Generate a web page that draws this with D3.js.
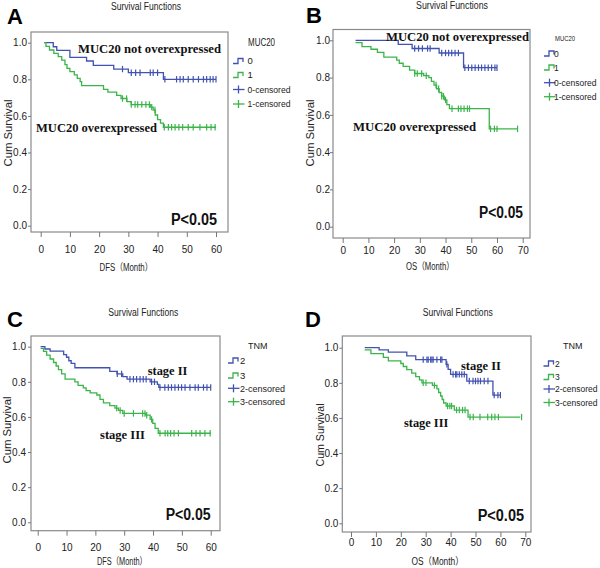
<!DOCTYPE html>
<html><head><meta charset="utf-8">
<script src="https://cdn.jsdelivr.net/npm/d3@7"></script>
<style>body{margin:0;background:#fff}svg{display:block}</style>
</head><body><svg id="c" width="600" height="568"></svg>
<script>
// ---------- DATA ----------
const yTickValues = [0, 0.2, 0.4, 0.6, 0.8, 1.0];
const dfsTicks = [0, 10, 20, 30, 40, 50, 60];
const osTicks = [0, 10, 20, 30, 40, 50, 60, 70];

// Panel A: DFS by MUC20 (0 = not overexpressed, 1 = overexpressed)
const aNotT = [1.2, 4.3, 5.5, 10, 15.7, 18, 25, 30, 42, 60];
const aNotS = [1.0, 0.978, 0.958, 0.92, 0.90, 0.876, 0.856, 0.836, 0.80, 0.80];
const aNotC = [28, 31, 32.5, 34, 37.5, 38.5, 40, 42.5, 46.5, 47.7, 48.8, 50.5, 52.2, 54, 55.7, 56.8, 58, 59, 60];
const aOverT = [1.2, 1.8, 3, 4.5, 6, 7.2, 8.3, 9, 10, 11.5, 12.5, 13.5, 14, 21.5, 23, 26, 27.5, 29.5, 31, 37.5, 38.5, 39.2, 40, 41, 42, 60];
const aOverS = [1.0, 0.98, 0.96, 0.942, 0.924, 0.905, 0.88, 0.86, 0.842, 0.824, 0.805, 0.787, 0.765, 0.745, 0.73, 0.712, 0.695, 0.678, 0.662, 0.648, 0.632, 0.605, 0.58, 0.56, 0.538, 0.538];
const aOverC = [28, 29.4, 31, 32.3, 33.2, 34.6, 36, 37.2, 38, 39.1, 42.3, 43.7, 44.8, 46, 47.3, 48.6, 50.5, 52.2, 54.5, 56.8, 58.3, 59.7];

// Panel B: OS by MUC20
const bNotT = [5, 21.6, 27, 37.5, 47, 60];
const bNotS = [1.0, 0.978, 0.956, 0.932, 0.853, 0.853];
const bNotC = [28, 29.5, 31, 33, 34, 38.5, 40, 41.2, 42.4, 43.7, 45, 47.5, 48.9, 50.2, 51.5, 52.8, 54, 55.3, 56.6, 57.9, 59.2, 60];
const bOverT = [5, 7.5, 11, 13.5, 16, 21, 22, 23.5, 26, 28, 31.5, 33.5, 34.5, 35.5, 36.5, 37.5, 38.5, 39.5, 40.5, 41.5, 57, 68];
const bOverS = [0.988, 0.966, 0.952, 0.935, 0.91, 0.894, 0.877, 0.86, 0.84, 0.822, 0.81, 0.80, 0.78, 0.76, 0.74, 0.72, 0.70, 0.68, 0.655, 0.633, 0.525, 0.525];
const bOverC = [28, 29, 30.7, 32.5, 36.3, 37.3, 38.5, 39.2, 40, 42.5, 45, 46, 47.2, 48.5, 49.3, 57.5, 59, 60, 68];

// Panel C: DFS by TNM stage
const cIIT = [1, 2.5, 4.3, 9, 10, 10.8, 11.6, 12.9, 25, 27.5, 29.5, 31, 39, 41.5, 42, 60];
const cIIS = [1.0, 0.987, 0.975, 0.955, 0.94, 0.92, 0.905, 0.88, 0.86, 0.845, 0.83, 0.815, 0.80, 0.785, 0.768, 0.768];
const cIIC = [27.6, 29.1, 32, 33.2, 34.3, 35.5, 36.6, 37.6, 39.5, 40.5, 42.4, 44.1, 45.3, 46.4, 47.6, 48.8, 49.9, 51.1, 52.8, 54.6, 55.7, 57.5, 58.7, 60];
const cIIIT = [1, 2, 3.1, 4.3, 5.5, 6.4, 7.2, 8.3, 9.5, 12.9, 14, 15.8, 16.8, 18.2, 20.5, 21.6, 22.8, 25, 26.8, 28, 29.5, 37.5, 39, 39.9, 40.7, 41.8, 60];
const cIIIS = [0.99, 0.973, 0.952, 0.93, 0.91, 0.89, 0.87, 0.845, 0.815, 0.80, 0.78, 0.765, 0.75, 0.737, 0.725, 0.70, 0.68, 0.665, 0.65, 0.637, 0.62, 0.61, 0.586, 0.563, 0.535, 0.507, 0.507];
const cIIIC = [27.4, 28.6, 30, 33.2, 36.4, 37.2, 37.8, 39.5, 42.4, 44.2, 45.1, 46.1, 47.3, 48.8, 53.4, 54.9, 56.3, 58, 59.8];

// Panel D: OS by TNM stage
const dIIT = [5.5, 11.3, 15, 22.4, 26, 38.2, 39, 40, 46.5, 57, 60];
const dIIS = [1.0, 0.988, 0.975, 0.953, 0.932, 0.905, 0.876, 0.848, 0.81, 0.73, 0.73];
const dIIC = [29, 30.5, 31, 32, 32.5, 33, 34.5, 36, 36.5, 38.5, 41, 42, 42.5, 43.5, 44.5, 45.5, 47.5, 49, 50, 51, 52, 53.5, 55, 57.5, 59, 60];
const dIIIT = [5.5, 8, 13, 15, 20, 21, 22.4, 24.4, 26, 27.5, 28.5, 32.7, 34.5, 35.2, 36, 36.6, 37.2, 38.2, 41.5, 47, 68];
const dIIIS = [0.988, 0.966, 0.945, 0.925, 0.91, 0.893, 0.875, 0.855, 0.835, 0.817, 0.80, 0.785, 0.765, 0.745, 0.725, 0.705, 0.685, 0.668, 0.645, 0.605, 0.605];
const dIIIC = [29, 30.1, 33.5, 38.8, 39.7, 40.4, 42.4, 43.5, 44.8, 45.8, 47.8, 49.1, 51.8, 54.9, 56.5, 57.8, 59.2, 68.5];

const mucLegend = ["0", "1", "0-censored", "1-censored"];
const tnmLegend = ["2", "3", "2-censored", "3-censored"];

// ---------- STYLE ----------
const BLUE = "#4152b0", GREEN = "#3bb44a";
const SANS = "'Liberation Sans', Arial, sans-serif";
const SERIF = "'Liberation Serif', 'Times New Roman', serif";
const CJK = "'Liberation Sans', 'Noto Sans CJK SC', sans-serif";

const svg = d3.select("#c");
svg.append("rect").attr("width", 600).attr("height", 568).attr("fill", "#fff");

const panels = [
  { letter: "A", letterXY: [7, 24], title: [146, 9.5, 70],
    frame: [31, 32, 228, 232], xr: [40.7, 216], xMax: 60, yr: [225.7, 42.7], xTicks: dfsTicks,
    xPad: 9, yPad: 1, yLab: [8, 133, 67], xLab: [126, 271, 53, "DFS（Month）"],
    leg: { title: "MUC20", tXY: [248, 45.7], tLen: 27, tSize: 10, symX: 233, textX: 247.5, ys: [61, 75, 89.5, 104], names: mucLegend, cenLen: 43, fs: 9.5 },
    notes: [["MUC20 not overexpressed", 78, 53, 143], ["MUC20 overexpressed", 36, 132, 121]],
    p: [171, 225, 46],
    series: [[aNotT, aNotS, aNotC, BLUE], [aOverT, aOverS, aOverC, GREEN]] },
  { letter: "B", letterXY: [306, 23], title: [452, 9, 72],
    frame: [333, 29.5, 530, 238], xr: [342.7, 522.7], xMax: 70, yr: [226.7, 40.3], xTicks: osTicks,
    xPad: 4, yPad: 0, yLab: [310, 133, 67], xLab: [430, 270, 48, "OS（Month）"],
    leg: { title: "MUC20", tXY: [555, 40.5], tLen: 20, tSize: 8, symX: 544, textX: 554, ys: [53.5, 67.5, 82.7, 96.7], names: mucLegend, cenLen: 42.5, fs: 8.5 },
    notes: [["MUC20 not overexpressed", 386, 41, 143], ["MUC20 overexpressed", 353, 130.5, 123]],
    p: [479, 218, 44],
    series: [[bNotT, bNotS, bNotC, BLUE], [bOverT, bOverS, bOverC, GREEN]] },
  { letter: "C", letterXY: [7, 327], title: [143.3, 315.5, 70],
    frame: [31, 336, 220, 530.7], xr: [37.7, 210.7], xMax: 60, yr: [522.3, 346.7], xTicks: dfsTicks,
    xPad: 8, yPad: 2, yLab: [7, 430, 67], xLab: [122, 565, 50, "DFS（Month）"],
    leg: { title: "TNM", tXY: [248, 349], tLen: null, tSize: 9, symX: 228, textX: 240, ys: [360.5, 375.5, 388.3, 401.7], names: tnmLegend, cenLen: 45, fs: 9.5 },
    notes: [["stage II", 147.7, 375, 39.6], ["stage III", 100, 439.3, 45]],
    p: [165.7, 520, 45],
    series: [[cIIT, cIIS, cIIC, BLUE], [cIIIT, cIIIS, cIIIC, GREEN]] },
  { letter: "D", letterXY: [305, 327], title: [457.7, 316, 70],
    frame: [342.3, 336, 531, 532], xr: [351, 525.3], xMax: 70, yr: [523.3, 347.7], xTicks: osTicks,
    xPad: 2, yPad: 1, yLab: [320.5, 435, 63], xLab: [437.5, 565, 52, "OS（Month）"],
    leg: { title: "TNM", tXY: [563, 349], tLen: null, tSize: 9, symX: 543.5, textX: 555, ys: [363.5, 377, 389, 402.5], names: tnmLegend, cenLen: 42.5, fs: 8.5 },
    notes: [["stage II", 461, 370, 40], ["stage III", 404, 426.7, 44.3]],
    p: [477.7, 520.7, 46.3],
    series: [[dIIT, dIIS, dIIC, BLUE], [dIIIT, dIIIS, dIIIC, GREEN]] }
];

function survAt(T, S, t) {
  const i = d3.bisectRight(T, t);
  return S[Math.max(0, i - 1)];
}

panels.forEach(P => {
  const g = svg.append("g");
  const [fx0, fy0, fx1, fy1] = P.frame;
  const x = d3.scaleLinear().domain([0, P.xMax]).range(P.xr);
  const y = d3.scaleLinear().domain([0, 1]).range(P.yr);

  // panel letter
  g.append("text").attr("x", P.letterXY[0]).attr("y", P.letterXY[1])
    .attr("font-family", SANS).attr("font-size", 22).attr("font-weight", "bold").text(P.letter);
  // title
  g.append("text").attr("x", P.title[0]).attr("y", P.title[1]).attr("text-anchor", "middle")
    .attr("font-family", SANS).attr("font-size", 10).attr("fill", "#222")
    .attr("textLength", P.title[2]).attr("lengthAdjust", "spacingAndGlyphs").text("Survival Functions");

  // frame
  g.append("rect").attr("x", fx0).attr("y", fy0).attr("width", fx1 - fx0).attr("height", fy1 - fy0)
    .attr("fill", "#fff").attr("stroke", "#8a8a8a").attr("stroke-width", 1.2);

  // axes
  const xa = g.append("g").attr("transform", `translate(0,${fy1})`)
    .call(d3.axisBottom(x).tickValues(P.xTicks).tickSize(5).tickPadding(P.xPad).tickSizeOuter(0));
  const ya = g.append("g").attr("transform", `translate(${fx0},0)`)
    .call(d3.axisLeft(y).tickValues(yTickValues).tickFormat(d3.format(".1f")).tickSize(3).tickPadding(P.yPad).tickSizeOuter(0));
  [xa, ya].forEach(a => {
    a.select(".domain").remove();
    a.selectAll("line").attr("stroke", "#777");
    a.selectAll("text").attr("font-family", SANS).attr("font-size", 10).attr("fill", "#222");
  });

  // axis titles
  g.append("text").attr("transform", `translate(${P.yLab[0]},${P.yLab[1]}) rotate(-90)`)
    .attr("text-anchor", "middle").attr("dy", "0.35em")
    .attr("font-family", SANS).attr("font-size", 10).attr("fill", "#222")
    .attr("textLength", P.yLab[2]).attr("lengthAdjust", "spacingAndGlyphs").text("Cum Survival");
  g.append("text").attr("x", P.xLab[0]).attr("y", P.xLab[1]).attr("text-anchor", "middle")
    .attr("font-family", CJK).attr("font-size", 10).attr("fill", "#222")
    .attr("textLength", P.xLab[2]).attr("lengthAdjust", "spacingAndGlyphs").text(P.xLab[3]);

  // curves
  const line = d3.line().x(d => x(d[0])).y(d => y(d[1])).curve(d3.curveStepAfter);
  P.series.forEach(([T, S, C, col]) => {
    g.append("path").attr("d", line(T.map((t, i) => [t, S[i]])))
      .attr("fill", "none").attr("stroke", col).attr("stroke-width", 1.3);
    g.selectAll(null).data(C).join("line")
      .attr("x1", d => x(d)).attr("x2", d => x(d))
      .attr("y1", d => y(survAt(T, S, d)) - 3.2).attr("y2", d => y(survAt(T, S, d)) + 3.2)
      .attr("stroke", col).attr("stroke-width", 1.2);
  });

  // legend
  const L = P.leg;
  const lt = g.append("text").attr("x", L.tXY[0]).attr("y", L.tXY[1])
    .attr("font-family", SANS).attr("font-size", L.tSize).attr("fill", "#222").text(L.title);
  if (L.tLen) lt.attr("textLength", L.tLen).attr("lengthAdjust", "spacingAndGlyphs");
  const cols = [BLUE, GREEN, BLUE, GREEN];
  L.ys.forEach((yy, i) => {
    const sx = L.symX;
    if (i < 2) {
      g.append("path").attr("d", `M${sx},${yy + 2.5}H${sx + 5}V${yy - 2.5}H${sx + 10}V${yy + 1}`)
        .attr("fill", "none").attr("stroke", cols[i]).attr("stroke-width", 1.3);
    } else {
      g.append("line").attr("x1", sx).attr("x2", sx + 11.5).attr("y1", yy).attr("y2", yy)
        .attr("stroke", cols[i]).attr("stroke-width", 1.3);
      g.append("line").attr("x1", sx + 5.5).attr("x2", sx + 5.5).attr("y1", yy - 4).attr("y2", yy + 4)
        .attr("stroke", cols[i]).attr("stroke-width", 1.3);
    }
    const tx = g.append("text").attr("x", L.textX).attr("y", yy + 3.3)
      .attr("font-family", SANS).attr("font-size", L.fs).attr("fill", "#222").text(L.names[i]);
    if (i >= 2) tx.attr("textLength", L.cenLen).attr("lengthAdjust", "spacingAndGlyphs");
  });

  // annotations
  P.notes.forEach(([txt, nx, ny, len]) => {
    g.append("text").attr("x", nx).attr("y", ny)
      .attr("font-family", SERIF).attr("font-size", 13).attr("font-weight", "bold").attr("fill", "#111")
      .attr("textLength", len).attr("lengthAdjust", "spacingAndGlyphs").text(txt);
  });
  g.append("text").attr("x", P.p[0]).attr("y", P.p[1])
    .attr("font-family", SANS).attr("font-size", 16).attr("font-weight", "bold").attr("fill", "#111")
    .attr("textLength", P.p[2]).attr("lengthAdjust", "spacingAndGlyphs").text("P<0.05");
});
</script>
</body></html>
